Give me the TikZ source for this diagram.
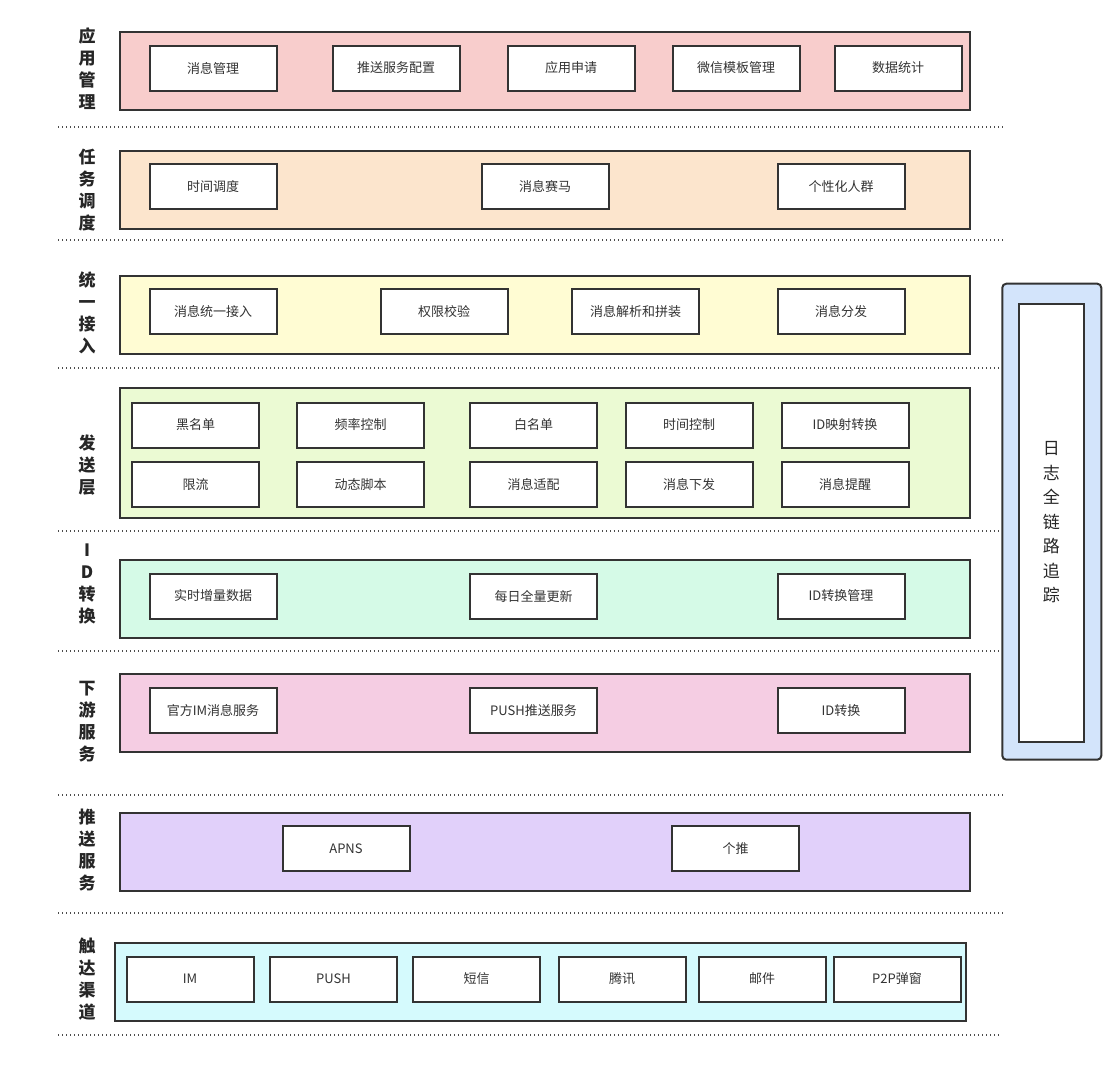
\documentclass[tikz,border=0pt]{standalone}
\usepackage{fontspec}
\setmainfont{Noto Sans CJK SC}
\definecolor{appc}{HTML}{F8CDCC}
\definecolor{taskc}{HTML}{FCE5CD}
\definecolor{inc}{HTML}{FFFCD3}
\definecolor{sendc}{HTML}{EBFAD3}
\definecolor{idc}{HTML}{D5FAE7}
\definecolor{downc}{HTML}{F5CDE3}
\definecolor{pushc}{HTML}{E1D0FA}
\definecolor{reachc}{HTML}{D5FAFD}
\definecolor{logc}{HTML}{D3E4FB}
\begin{document}
\begin{tikzpicture}[x=1pt,y=-1pt,
  layer/.style={draw=black!80,line width=2pt,minimum width=850pt,minimum height=78pt,inner sep=0pt},
  item/.style={draw=black!80,fill=white,line width=2pt,minimum width=127pt,minimum height=45pt,inner sep=0pt,font=\fontsize{13}{15}\selectfont,text=black!80},
  tag/.style={align=center,font=\fontsize{17}{22}\selectfont\bfseries,text=black!85},
  sep/.style={black!70,line width=1.3pt,dash pattern=on 1.3pt off 2.7pt}]
\useasboundingbox (0,0) rectangle (1119,1080);

\draw[sep] (58,127) -- (1005,127);
\draw[sep] (58,240) -- (1005,240);
\draw[sep] (58,368) -- (999,368);
\draw[sep] (58,531) -- (999,531);
\draw[sep] (58,651) -- (999,651);
\draw[sep] (58,795) -- (1005,795);
\draw[sep] (58,913) -- (1005,913);
\draw[sep] (58,1035) -- (1000,1035);

\node[tag] (tapp) at (87,69) {应\\用\\管\\理};
\node[layer,fill=appc] (app) at (545,70.5) {};
\node[item] (app1) at (213,68) {消息管理};
\node[item] (app2) at (396,68) {推送服务配置};
\node[item] (app3) at (571,68) {应用申请};
\node[item] (app4) at (736,68) {微信模板管理};
\node[item] (app5) at (898,68) {数据统计};

\node[tag] (ttask) at (87,190) {任\\务\\调\\度};
\node[layer,fill=taskc] (task) at (545,189.5) {};
\node[item] (task1) at (213,186.5) {时间调度};
\node[item] (task2) at (545,186.5) {消息赛马};
\node[item] (task3) at (841,186.5) {个性化人群};

\node[tag] (tin) at (87,313) {统\\一\\接\\入};
\node[layer,fill=inc] (in) at (545,314.5) {};
\node[item] (in1) at (213,311.5) {消息统一接入};
\node[item] (in2) at (444,311.5) {权限校验};
\node[item] (in3) at (635.5,311.5) {消息解析和拼装};
\node[item] (in4) at (841,311.5) {消息分发};

\node[tag] (tsend) at (87,465) {发\\送\\层};
\node[layer,fill=sendc,minimum height=130pt] (send) at (545,453) {};
\node[item] (send1) at (195.5,425) {黑名单};
\node[item] (send2) at (360.5,425) {频率控制};
\node[item] (send3) at (533.5,425) {白名单};
\node[item] (send4) at (689,425) {时间控制};
\node[item] (send5) at (845,425) {ID映射转换};
\node[item] (send6) at (195.5,484.5) {限流};
\node[item] (send7) at (360.5,484.5) {动态脚本};
\node[item] (send8) at (533.5,484.5) {消息适配};
\node[item] (send9) at (689,484.5) {消息下发};
\node[item] (send10) at (845,484.5) {消息提醒};

\node[tag] (tid) at (87,584) {I\\D\\转\\换};
\node[layer,fill=idc] (id) at (545,599) {};
\node[item] (id1) at (213,596) {实时增量数据};
\node[item] (id2) at (533.5,596) {每日全量更新};
\node[item] (id3) at (841,596) {ID转换管理};

\node[tag] (tdown) at (87,722) {下\\游\\服\\务};
\node[layer,fill=downc] (down) at (545,713) {};
\node[item] (down1) at (213,710.5) {官方IM消息服务};
\node[item] (down2) at (533.5,710.5) {PUSH推送服务};
\node[item] (down3) at (841,710.5) {ID转换};

\node[tag] (tpush) at (87,850) {推\\送\\服\\务};
\node[layer,fill=pushc] (push) at (545,851.5) {};
\node[item] (push1) at (346,848.5) {APNS};
\node[item] (push2) at (735.5,848.5) {个推};

\node[tag] (treach) at (87,979) {触\\达\\渠\\道};
\node[layer,fill=reachc,minimum width=851pt] (reach) at (540,982) {};
\node[item] (reach1) at (190,979) {IM};
\node[item] (reach2) at (333.5,979) {PUSH};
\node[item] (reach3) at (476.5,979) {短信};
\node[item] (reach4) at (622,979) {腾讯};
\node[item] (reach5) at (762,979) {邮件};
\node[item] (reach6) at (897,979) {P2P弹窗};

\node[draw=black!80,fill=logc,line width=2pt,rounded corners=4pt,minimum width=99pt,minimum height=476pt] (log) at (1051.8,521.7) {};
\node[draw=black!80,fill=white,line width=2pt,minimum width=65pt,minimum height=438pt,align=center,text=black!85,font=\fontsize{17}{24.5}\selectfont] (logtxt) at (1051.4,522.5) {日\\志\\全\\链\\路\\追\\踪};
\end{tikzpicture}
\end{document}
